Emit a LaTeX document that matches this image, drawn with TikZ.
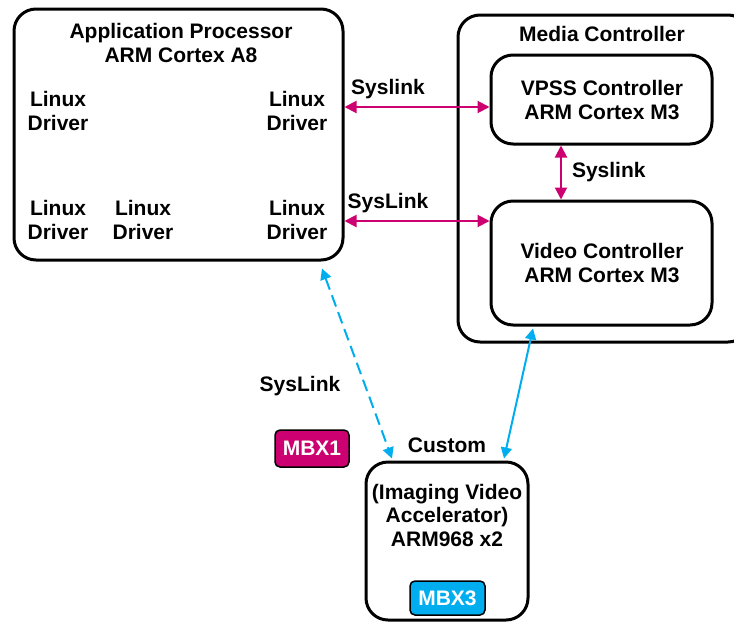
\documentclass[tikz,border=0pt]{standalone}
\usepackage{fontspec}
\setmainfont{Liberation Sans}
\usepackage{tikz}
\usetikzlibrary{arrows.meta}
\definecolor{mbxpink}{HTML}{CC0070}
\definecolor{mbxcyan}{HTML}{00AEEF}

\begin{document}
\begin{tikzpicture}[x=1pt,y=-1pt,
  every node/.style={font=\bfseries\fontsize{21}{23.5}\selectfont,align=center,inner sep=0pt},
  block/.style={draw,line width=3pt,rounded corners=22pt},
  badge/.style={draw,line width=1.5pt,rounded corners=5pt,text=white},
  pinklink/.style={mbxpink,line width=2pt,{Triangle[length=12pt,width=12pt]}-{Triangle[length=12pt,width=12pt]}},
  cyanlink/.style={mbxcyan,line width=2pt,{Triangle[length=11pt,width=11pt]}-{Triangle[length=11pt,width=11pt]}}]
  \useasboundingbox (0,0) rectangle (734,622);
  % boxes
  \node[block,minimum width=329pt,minimum height=251pt] (ap) at (178.5,134.5) {};
  \node[block,minimum width=292pt,minimum height=327pt] (media) at (604,178.5) {};
  \node[block,minimum width=221pt,minimum height=89pt] (vpss) at (601.5,99.5) {};
  \node[block,minimum width=221pt,minimum height=124pt] (video) at (601.5,263) {};
  \node[block,minimum width=162pt,minimum height=158pt] (iva) at (447,541) {};
  % texts
  \node (aptitle) at (181,43) {Application Processor\\ARM Cortex A8};
  \node (drv1) at (58,111) {Linux\\Driver};
  \node (drv2) at (297,111) {Linux\\Driver};
  \node (drv3) at (58,220) {Linux\\Driver};
  \node (drv4) at (143,220) {Linux\\Driver};
  \node (drv5) at (297,220) {Linux\\Driver};
  \node (mctitle) at (602,34) {Media Controller};
  \node (vpsstext) at (602,100) {VPSS Controller\\ARM Cortex M3};
  \node (videotext) at (602,263) {Video Controller\\ARM Cortex M3};
  \node (ivatext) at (447,515) {(Imaging Video\\Accelerator)\\ARM968 x2};
  \node[badge,fill=mbxpink,minimum width=74pt,minimum height=37pt] (mbx1) at (312,448.5) {MBX1};
  \node[badge,fill=mbxcyan,minimum width=75pt,minimum height=34pt] (mbx3) at (447.5,598) {MBX3};
  % links
  \coordinate (y1) at (0,107);
  \coordinate (y2) at (0,221);
  \coordinate (x3) at (561,0);
  \draw[pinklink] (ap.east |- y1) -- (vpss.west |- y1)
    node[pos=0.3,above=7pt,black] (sl1) {Syslink};
  \draw[pinklink] (ap.east |- y2) -- (video.west |- y2)
    node[pos=0.3,above=7pt,black] (sl2) {SysLink};
  \draw[pinklink] (vpss.south -| x3) -- (video.north -| x3)
    node[midway,right=10pt,black] (sl3) {Syslink};
  \draw[cyanlink,dash pattern=on 12pt off 6pt] ([shift={(143.5,7)}]ap.south) -- ([shift={(-55,-2)}]iva.north);
  \draw[cyanlink] ([shift={(-68.5,2)}]video.south) -- ([shift={(57,-2)}]iva.north);
  \node (sl4) at (300,386) {SysLink};
  \node (custom) at (447,445) {Custom};
\end{tikzpicture}
\end{document}
